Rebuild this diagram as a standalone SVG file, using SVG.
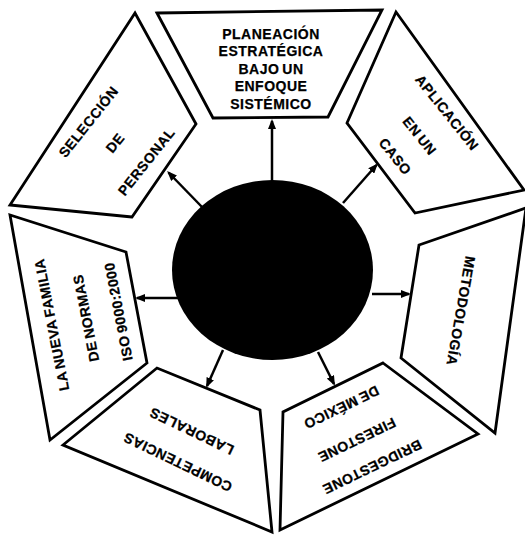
<svg xmlns="http://www.w3.org/2000/svg" width="525" height="535" viewBox="0 0 525 535">
  <defs>
    <style>
      .box { fill: #ffffff; stroke: #000000; stroke-width: 2.8; stroke-linejoin: miter; }
      .lbl { font-family: "Liberation Sans", Arial, Helvetica, sans-serif; font-weight: bold; font-size: 14px; letter-spacing: 0.5px; word-spacing: -1.5px; fill: #000000; text-anchor: middle; stroke: #000000; stroke-width: 0.25; }
      .arr { stroke: #000000; stroke-width: 2.5; fill: none; marker-end: url(#ah); }
    </style>
    <marker id="ah" viewBox="0 0 10 8" refX="8" refY="4" markerWidth="10" markerHeight="8" markerUnits="userSpaceOnUse" orient="auto">
      <path d="M0,0 L10,4 L0,8 z" fill="#000000"/>
    </marker>
  </defs>
  <rect x="0" y="0" width="525" height="535" fill="#ffffff"/>

  <g id="planeacion">
    <polygon class="box" points="157,13 382,10 328,117 213,118"/>
    <text class="lbl" x="271" y="38.5">PLANEACIÓN</text>
    <text class="lbl" x="271" y="56">ESTRATÉGICA</text>
    <text class="lbl" x="271" y="73.5">BAJO UN</text>
    <text class="lbl" x="271" y="91">ENFOQUE</text>
    <text class="lbl" x="271" y="108.5">SISTÉMICO</text>
  </g>

  <g id="aplicacion">
    <polygon class="box" points="396,12 524,190 415,213 347,123"/>
    <g transform="translate(419,135) rotate(51.4)">
      <text class="lbl" x="0" y="-31">APLICACIÓN</text>
      <text class="lbl" x="1" y="5">EN UN</text>
      <text class="lbl" x="2" y="37">CASO</text>
    </g>
  </g>

  <g id="metodologia">
    <polygon class="box" points="419,245 526,208 495,433 401,358"/>
    <g transform="translate(461,311) rotate(100)">
      <text class="lbl" x="0" y="5">METODOLOGÍA</text>
    </g>
  </g>

  <g id="bridgestone">
    <polygon class="box" points="383,363 478,434 280,530 283,412"/>
    <g transform="translate(357,440) rotate(154.3)">
      <text class="lbl" x="-2" y="-26">BRIDGESTONE</text>
      <text class="lbl" x="0" y="5">FIRESTONE</text>
      <text class="lbl" x="0" y="41">DE MÉXICO</text>
    </g>
  </g>

  <g id="competencias">
    <polygon class="box" points="260,410 272,532 63,445 157,368"/>
    <g transform="translate(185,447) rotate(205.7)">
      <text class="lbl" x="0" y="-12">COMPETENCIAS</text>
      <text class="lbl" x="1" y="22">LABORALES</text>
    </g>
  </g>

  <g id="nueva-familia">
    <polygon class="box" points="147,363 50,440 10,215 126,252"/>
    <g transform="translate(86,318) rotate(-101)">
      <text class="lbl" x="0" y="-30">LA NUEVA FAMILIA</text>
      <text class="lbl" x="0" y="5">DE NORMAS</text>
      <text class="lbl" x="0" y="38">ISO 9000:2000</text>
    </g>
  </g>

  <g id="seleccion">
    <polygon class="box" points="132,217 10,205 135,13 196,124"/>
    <g transform="translate(115,143) rotate(-51.4)">
      <text class="lbl" x="0" y="-29">SELECCIÓN</text>
      <text class="lbl" x="0" y="5">DE</text>
      <text class="lbl" x="5" y="41">PERSONAL</text>
    </g>
  </g>

  <g id="centro">
    <ellipse cx="272.5" cy="270" rx="100.5" ry="90" fill="#000000"/>
  </g>

  <g id="connectors">
    <line class="arr" x1="272" y1="182" x2="272" y2="121"/>
    <line class="arr" x1="343" y1="203" x2="376.5" y2="165"/>
    <line class="arr" x1="372" y1="294" x2="409" y2="294"/>
    <line class="arr" x1="318" y1="352" x2="334" y2="384"/>
    <line class="arr" x1="223" y1="350" x2="207" y2="386"/>
    <line class="arr" x1="178" y1="298" x2="137" y2="298"/>
    <line class="arr" x1="202" y1="207" x2="168.5" y2="172.5"/>
  </g>
</svg>
